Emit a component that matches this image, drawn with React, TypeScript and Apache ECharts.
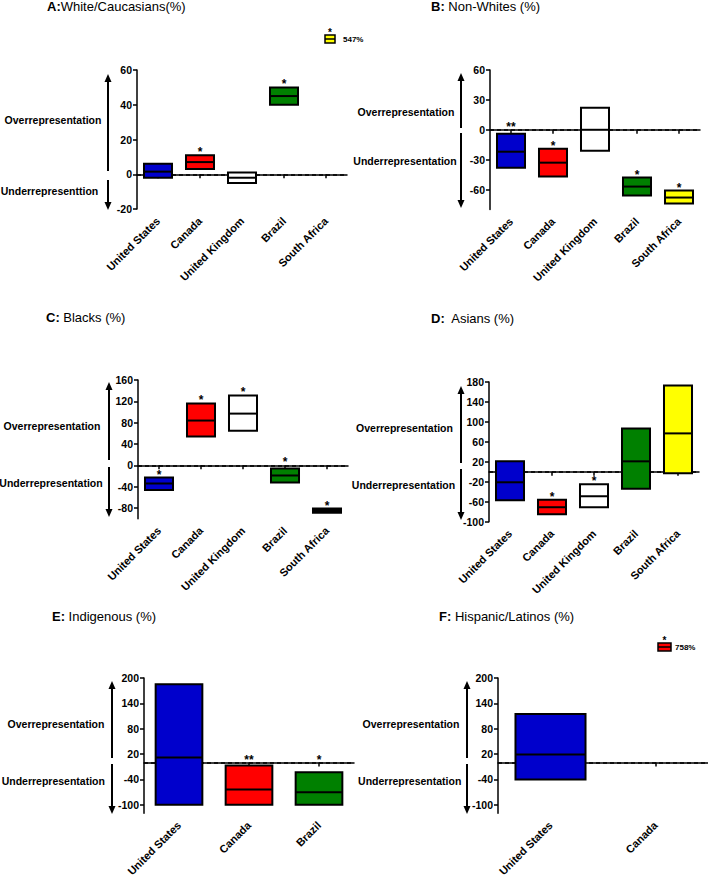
import React, { useEffect, useRef } from "react";
import * as echarts from "echarts";

// ---------- data ----------
const countries5 = ["United States", "Canada", "United Kingdom", "Brazil", "South Africa"];
const countriesE = ["United States", "Canada", "Brazil"];
const countriesF = ["United States", "Canada"];

const colorByCountry: Record<string, string> = {
  "United States": "#0000CC",
  Canada: "#FF0000",
  "United Kingdom": "#FFFFFF",
  Brazil: "#008000",
  "South Africa": "#FFFF00",
};

// A: White/Caucasians
const lowA = [-2, 3, -5, 40, null];
const medA = [1.5, 7, -2, 45, null];
const highA = [6, 11, 1, 50, null];
const sigA = ["", "*", "", "*", ""];
const offScaleA = { text: "547%", sig: "*", country: "South Africa" };
const ticksA = [-20, 0, 20, 40, 60];

// B: Non-Whites
const lowB = [-38, -47, -21, -66, -74];
const medB = [-22, -33, 0, -57, -68];
const highB = [-4, -19, 22, -48, -61];
const sigB = ["**", "*", "", "*", "*"];
const ticksB = [-60, -30, 0, 30, 60];

// C: Blacks
const lowC = [-46, 54, 65, -32, -89];
const medC = [-34, 84, 97, -19, -85];
const highC = [-23, 116, 131, -6, -81];
const sigC = ["*", "*", "*", "*", "*"];
const ticksC = [-80, -40, 0, 40, 80, 120, 160];

// D: Asians
const lowD = [-57, -85, -71, -34, -3];
const medD = [-21, -71, -49, 21, 77];
const highD = [21, -56, -25, 87, 173];
const sigD = ["", "*", "*", "", ""];
const ticksD = [-100, -60, -20, 20, 60, 100, 140, 180];

// E: Indigenous
const lowE = [-100, -100, -100];
const medE = [12, -64, -70];
const highE = [185, -7, -23];
const sigE = ["", "**", "*"];
const ticksE = [-100, -40, 20, 80, 140, 200];

// F: Hispanic/Latinos
const lowF = [-40, null];
const medF = [19, null];
const highF = [115, null];
const sigF = ["", ""];
const offScaleF = { text: "758%", sig: "*", country: "Canada" };
const ticksF = [-100, -40, 20, 80, 140, 200];

const FONT = "'Liberation Sans', Arial, Helvetica, sans-serif";

type Panel = {
  title: string;
  cats: string[];
  low: (number | null)[];
  med: (number | null)[];
  high: (number | null)[];
  sig: string[];
  ticks: number[];
  min: number;
  max: number;
  fillOverride?: Record<string, string>;
  grid: { left: number; top: number; width: number; height: number };
  titlePos: [number, number];
  under: string;
  ann: {
    over: [number, number];
    under: [number, number];
    ax: number;
    upTip: number;
    upEnd: number;
    downStart: number;
    downTip: number;
  };
};

const panels: Panel[] = [
  {
    title: "{b|A:}White/Caucasians(%)",
    cats: countries5, low: lowA, med: medA, high: highA, sig: sigA, ticks: ticksA,
    min: -20, max: 60,
    grid: { left: 137, top: 70, width: 210, height: 139 },
    titlePos: [47, 8],
    under: "Underrepresenttion",
    ann: { over: [53, 120], under: [49.5, 191], ax: 108, upTip: 74, upEnd: 171, downStart: 180, downTip: 210 },
  },
  {
    title: "{b|B:} Non-Whites (%)",
    cats: countries5, low: lowB, med: medB, high: highB, sig: sigB, ticks: ticksB,
    min: -80, max: 60,
    grid: { left: 490, top: 70, width: 210, height: 139.5 },
    titlePos: [431, 8],
    under: "Underrepresentation",
    ann: { over: [406, 112], under: [405, 161], ax: 461, upTip: 73, upEnd: 128, downStart: 133, downTip: 208 },
  },
  {
    title: "{b|C:} Blacks (%)",
    cats: countries5, low: lowC, med: medC, high: highC, sig: sigC, ticks: ticksC,
    min: -100, max: 160,
    fillOverride: { "South Africa": "#000000" },
    grid: { left: 138, top: 380, width: 210, height: 138.7 },
    titlePos: [46, 319],
    under: "Underrepresentation",
    ann: { over: [52, 425.7], under: [51, 482.7], ax: 109, upTip: 382, upEnd: 460, downStart: 467, downTip: 517 },
  },
  {
    title: "{b|D:}  Asians (%)",
    cats: countries5, low: lowD, med: medD, high: highD, sig: sigD, ticks: ticksD,
    min: -100, max: 180,
    grid: { left: 489, top: 382, width: 210, height: 139.7 },
    titlePos: [431, 320],
    under: "Underrepresentation",
    ann: { over: [404.5, 427.7], under: [403.5, 485], ax: 461, upTip: 386, upEnd: 463, downStart: 469, downTip: 520 },
  },
  {
    title: "{b|E:} Indigenous (%)",
    cats: countriesE, low: lowE, med: medE, high: highE, sig: sigE, ticks: ticksE,
    min: -120, max: 200,
    grid: { left: 144, top: 678, width: 210, height: 139.3 },
    titlePos: [52, 618],
    under: "Underrepresentation",
    ann: { over: [56, 724], under: [53.3, 781.3], ax: 112, upTip: 681, upEnd: 758, downStart: 764, downTip: 814 },
  },
  {
    title: "{b|F:} Hispanic/Latinos (%)",
    cats: countriesF, low: lowF, med: medF, high: highF, sig: sigF, ticks: ticksF,
    min: -120, max: 200,
    grid: { left: 498, top: 678, width: 210, height: 139.3 },
    titlePos: [439, 618],
    under: "Underrepresentation",
    ann: { over: [411, 724], under: [409.7, 781], ax: 467, upTip: 681, upEnd: 758, downStart: 764, downTip: 814 },
  },
];

function makeRender(p: Panel) {
  return (params: any, api: any) => {
    const i = api.value(0);
    const lo = api.value(1);
    const md = api.value(2);
    const hi = api.value(3);
    const pLo = api.coord([i, lo]);
    const pHi = api.coord([i, hi]);
    const pMd = api.coord([i, md]);
    const zeroY = api.coord([i, 0])[1];
    const bw = api.size([1, 0])[0] * 0.667;
    const x0 = pLo[0] - bw / 2;
    const cat = p.cats[i];
    const fill = (p.fillOverride && p.fillOverride[cat]) || colorByCountry[cat];
    const children: any[] = [
      {
        type: "rect",
        shape: { x: x0, y: pHi[1], width: bw, height: pLo[1] - pHi[1] },
        style: { fill, stroke: "#000", lineWidth: 2 },
      },
      {
        type: "line",
        shape: { x1: x0, y1: pMd[1], x2: x0 + bw, y2: pMd[1] },
        style: { stroke: "#000", lineWidth: 2 },
      },
    ];
    const s = p.sig[i];
    if (s) {
      let anchor = pHi[1];
      const d = pHi[1] - zeroY;
      if (d >= 0 && d < 10) anchor = zeroY;
      children.push({
        type: "text",
        style: {
          text: s,
          x: pLo[0],
          y: anchor - 3,
          fill: "#000",
          font: `bold 12px ${FONT}`,
          align: "center",
          verticalAlign: "middle",
          textAlign: "center",
          textVerticalAlign: "middle",
        },
      });
    }
    return { type: "group", children };
  };
}

function arrowGraphics(p: Panel): any[] {
  const a = p.ann;
  const hw = 3.5;
  const hh = 8;
  const textStyle = (t: string, x: number, y: number) => ({
    type: "text",
    style: {
      text: t,
      x,
      y,
      fill: "#000",
      font: `bold 10.5px ${FONT}`,
      align: "center",
      verticalAlign: "middle",
      textAlign: "center",
      textVerticalAlign: "middle",
    },
  });
  return [
    textStyle("Overrepresentation", a.over[0], a.over[1]),
    textStyle(p.under, a.under[0], a.under[1]),
    {
      type: "line",
      shape: { x1: a.ax, y1: a.upTip + hh - 1, x2: a.ax, y2: a.upEnd },
      style: { stroke: "#000", lineWidth: 2 },
    },
    {
      type: "polygon",
      shape: { points: [[a.ax, a.upTip], [a.ax - hw, a.upTip + hh], [a.ax + hw, a.upTip + hh]] },
      style: { fill: "#000" },
    },
    {
      type: "line",
      shape: { x1: a.ax, y1: a.downStart, x2: a.ax, y2: a.downTip - hh + 1 },
      style: { stroke: "#000", lineWidth: 2 },
    },
    {
      type: "polygon",
      shape: { points: [[a.ax, a.downTip], [a.ax - hw, a.downTip - hh], [a.ax + hw, a.downTip - hh]] },
      style: { fill: "#000" },
    },
  ];
}

function offScaleGraphic(
  o: { text: string; sig: string; country: string },
  box: { x: number; y: number; w: number; h: number },
  labelX: number
): any[] {
  const cy = box.y + box.h / 2;
  return [
    {
      type: "rect",
      shape: { x: box.x, y: box.y, width: box.w, height: box.h },
      style: { fill: colorByCountry[o.country], stroke: "#000", lineWidth: 1.5 },
    },
    {
      type: "line",
      shape: { x1: box.x, y1: cy, x2: box.x + box.w, y2: cy },
      style: { stroke: "#000", lineWidth: 1.5 },
    },
    {
      type: "text",
      style: {
        text: o.text, x: labelX, y: cy, fill: "#000", font: `bold 8px ${FONT}`,
        align: "left", verticalAlign: "middle", textAlign: "left", textVerticalAlign: "middle",
      },
    },
    {
      type: "text",
      style: {
        text: o.sig, x: box.x + box.w / 2, y: box.y - 3, fill: "#000", font: `bold 10px ${FONT}`,
        align: "center", verticalAlign: "middle", textAlign: "center", textVerticalAlign: "middle",
      },
    },
  ];
}

export default function App() {
  const ref = useRef<HTMLDivElement>(null);
  useEffect(() => {
    if (!ref.current) return;
    const chart = echarts.init(ref.current, undefined, { renderer: "svg" });

    const axisLineStyle = { color: "#000", width: 1.5 };
    const labelStyle = { color: "#000", fontFamily: FONT, fontWeight: "bold" as const, fontSize: 10.5 };

    const grids = panels.map((p) => ({ ...p.grid, containLabel: false }));
    const titles = panels.map((p) => ({
      text: p.title,
      left: p.titlePos[0],
      top: Math.max(0, p.titlePos[1] - 8),
      padding: 0,
      textStyle: {
        fontFamily: FONT,
        fontSize: 13,
        fontWeight: "normal" as const,
        color: "#000",
        rich: { b: { fontFamily: FONT, fontSize: 13, fontWeight: "bold" as const, color: "#000" } },
      },
    }));
    const xAxes = panels.map((p, k) => ({
      type: "category" as const,
      gridIndex: k,
      data: p.cats,
      boundaryGap: true,
      axisLine: { show: true, lineStyle: axisLineStyle },
      axisTick: { show: true, alignWithLabel: true, length: 4, lineStyle: axisLineStyle },
      axisLabel: { ...labelStyle, fontSize: 11, rotate: 45, margin: 10, interval: 0 },
      splitLine: { show: false },
    }));
    const yAxes = panels.map((p, k) => ({
      type: "value" as const,
      gridIndex: k,
      min: p.min,
      max: p.max,
      axisLine: { show: true, lineStyle: axisLineStyle },
      axisTick: { show: true, length: 4, lineStyle: axisLineStyle, customValues: p.ticks },
      axisLabel: { ...labelStyle, margin: 5, customValues: p.ticks },
      splitLine: { show: false },
    }));
    const series: any[] = [];
    panels.forEach((p, k) => {
      const data: any[] = [];
      p.cats.forEach((_, i) => {
        if (p.low[i] !== null && p.med[i] !== null && p.high[i] !== null) {
          data.push([i, p.low[i], p.med[i], p.high[i]]);
        }
      });
      series.push({
        type: "line",
        xAxisIndex: k,
        yAxisIndex: k,
        data: [],
        symbol: "none",
        z: 1,
        markLine: {
          silent: true,
          z: 1,
          symbol: ["none", "none"],
          label: { show: false },
          lineStyle: { color: "#000", type: [4, 3], width: 1.5 },
          data: [{ yAxis: 0 }],
        },
      });
      series.push({
        type: "custom",
        xAxisIndex: k,
        yAxisIndex: k,
        renderItem: makeRender(p),
        encode: { x: 0, y: [1, 2, 3] },
        data,
        clip: false,
        z: 10,
      });
    });

    const graphics: any[] = [];
    panels.forEach((p) => graphics.push(...arrowGraphics(p)));
    graphics.push(...offScaleGraphic(offScaleA, { x: 325, y: 35, w: 10, h: 8 }, 343));
    graphics.push(...offScaleGraphic(offScaleF, { x: 658, y: 643, w: 13, h: 8 }, 675));

    chart.setOption({
      animation: false,
      backgroundColor: "#fff",
      title: titles,
      grid: grids,
      xAxis: xAxes,
      yAxis: yAxes,
      series,
      graphic: graphics,
    });
    return () => chart.dispose();
  }, []);

  return (
    <div
      ref={ref}
      style={{ position: "absolute", left: 0, top: 0, width: 708, height: 879, background: "#fff" }}
    />
  );
}
